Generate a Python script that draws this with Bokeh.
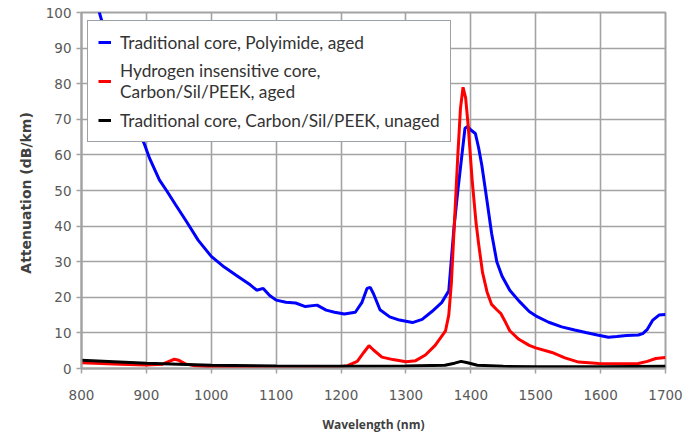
from bokeh.plotting import figure
from bokeh.models import Legend, LegendItem, Range1d, FixedTicker
from bokeh.embed import file_html
from bokeh.resources import INLINE

# Traditional core, Polyimide, aged
blue_wl = [826, 840, 860, 880, 897, 905, 920, 931, 945, 961, 980, 1000, 1020, 1040,
           1060, 1070, 1080, 1090, 1100, 1115, 1130, 1145, 1163, 1177, 1190, 1205,
           1222, 1232, 1240, 1245, 1250, 1260, 1275, 1290, 1310, 1325, 1340, 1355,
           1366, 1374, 1380, 1385, 1391, 1395, 1400, 1407, 1412, 1417, 1425, 1432,
           1440, 1448, 1460, 1474, 1490, 1500, 1520, 1540, 1560, 1577, 1595, 1612,
           1625, 1640, 1658, 1665, 1672, 1680, 1690, 1700]
blue_att = [101, 92, 80, 70, 63, 59, 53, 50, 46, 41.5, 36, 31.5, 28.5, 26,
            23.5, 22, 22.5, 20.5, 19.2, 18.6, 18.4, 17.4, 17.8, 16.4, 15.8, 15.3,
            15.8, 18.5, 22.5, 22.8, 21, 16.5, 14.5, 13.6, 12.9, 13.8, 16, 18.5,
            21.8, 39.5, 50, 58, 67.5, 68, 67, 66, 62, 57, 47, 38,
            30, 26, 22, 19, 16, 14.8, 13, 11.7, 10.8, 10.1, 9.4, 8.8,
            9, 9.3, 9.4, 9.8, 11, 13.5, 15, 15.2]

# Hydrogen insensitive core, Carbon/Sil/PEEK, aged
red_wl = [800, 830, 860, 900, 925, 935, 943, 950, 960, 975, 1000, 1050, 1100, 1150,
          1195, 1210, 1225, 1235, 1243, 1250, 1263, 1280, 1300, 1315, 1330, 1345,
          1361, 1366, 1370, 1375, 1380, 1384, 1388, 1392, 1396, 1402, 1408, 1412,
          1418, 1425, 1432, 1440, 1446, 1452, 1460, 1474, 1490, 1500, 1525, 1545,
          1566, 1597, 1630, 1658, 1672, 1685, 1700]
red_att = [1.6, 1.4, 1.2, 1.0, 1.2, 2.0, 2.6, 2.3, 1.3, 0.8, 0.5, 0.3, 0.3, 0.4,
           0.4, 0.8, 2.0, 4.5, 6.4, 5.2, 3.2, 2.5, 1.9, 2.2, 3.8, 6.5,
           10.6, 15, 24, 42, 60, 73, 79, 76, 68, 53, 41, 35,
           27, 21.5, 18, 16.5, 15.5, 13.5, 10.6, 8.2, 6.5, 5.8, 4.5, 3.0,
           1.8, 1.4, 1.3, 1.4, 2.0, 2.8, 3.1]

# Traditional core, Carbon/Sil/PEEK, unaged
black_wl = [800, 850, 900, 950, 1000, 1100, 1200, 1300, 1360, 1375, 1385, 1395,
            1410, 1450, 1500, 1600, 1700]
black_att = [2.3, 1.9, 1.5, 1.2, 0.9, 0.7, 0.6, 0.7, 0.9, 1.5, 2.0, 1.6,
             0.9, 0.6, 0.5, 0.5, 0.6]

x_ticks = [800, 900, 1000, 1100, 1200, 1300, 1400, 1500, 1600, 1700]
y_ticks = [0, 10, 20, 30, 40, 50, 60, 70, 80, 90, 100]

series_labels = ["Traditional core, Polyimide, aged",
                 "Hydrogen insensitive core,\nCarbon/Sil/PEEK, aged",
                 "Traditional core, Carbon/Sil/PEEK, unaged"]

GRID = "#a3a3a3"
TICK_FONT = "DejaVu Sans"

p = figure(width=689, height=437, output_backend="svg", toolbar_location=None,
           x_range=Range1d(800, 1700), y_range=Range1d(0, 100),
           min_border_left=81, min_border_right=24, min_border_top=12,
           min_border_bottom=69)

p.outline_line_color = GRID
p.outline_line_width = 2
p.xgrid.grid_line_color = GRID
p.ygrid.grid_line_color = GRID
p.xgrid.grid_line_width = 1.6
p.ygrid.grid_line_width = 1.6

p.xaxis.ticker = FixedTicker(ticks=x_ticks)
p.yaxis.ticker = FixedTicker(ticks=y_ticks)
for ax in (p.xaxis[0], p.yaxis[0]):
    ax.axis_line_color = GRID
    ax.axis_line_width = 2
    ax.major_tick_line_color = GRID
    ax.major_tick_line_width = 1.5
    ax.major_tick_in = 0
    ax.major_tick_out = 5
    ax.minor_tick_line_color = None
    ax.major_label_text_font = TICK_FONT
    ax.major_label_text_font_size = "13.5px"
    ax.major_label_text_color = "#595959"
    ax.axis_label_text_font_style = "bold"
    ax.axis_label_text_color = "#404040"

p.xaxis.axis_label = "Wavelength (nm)"
p.yaxis.axis_label = "Attenuation  (dB/km)"
p.xaxis.axis_label_text_font = "Open Sans"
p.xaxis.axis_label_text_font_size = "12px"
p.yaxis.axis_label_text_font = "DejaVu Sans"
p.yaxis.axis_label_text_font_size = "14px"
p.xaxis.major_label_standoff = 16
p.xaxis.axis_label_standoff = 13
p.yaxis.major_label_standoff = 5
p.yaxis.axis_label_standoff = 9

r_blue = p.line(blue_wl, blue_att, line_color="#0000ff", line_width=3)
r_red = p.line(red_wl, red_att, line_color="#ff0000", line_width=3)
r_black = p.line(black_wl, black_att, line_color="#000000", line_width=3)

legend = Legend(items=[LegendItem(label=series_labels[0], renderers=[r_blue]),
                       LegendItem(label=series_labels[1], renderers=[r_red]),
                       LegendItem(label=series_labels[2], renderers=[r_black])],
                location=(6, 226))
legend.label_text_font = "Lato"
legend.label_text_font_size = "17.3px"
legend.label_text_color = "#333333"
legend.border_line_color = "#3a4452"
legend.border_line_width = 1
legend.background_fill_color = "white"
legend.background_fill_alpha = 1
legend.padding = 10
legend.spacing = 7
legend.glyph_width = 13
legend.glyph_height = 22
legend.label_height = 22
legend.label_standoff = 9
legend.margin = 0
p.add_layout(legend, "center")

open("out.html", "w").write(file_html(p, INLINE))
